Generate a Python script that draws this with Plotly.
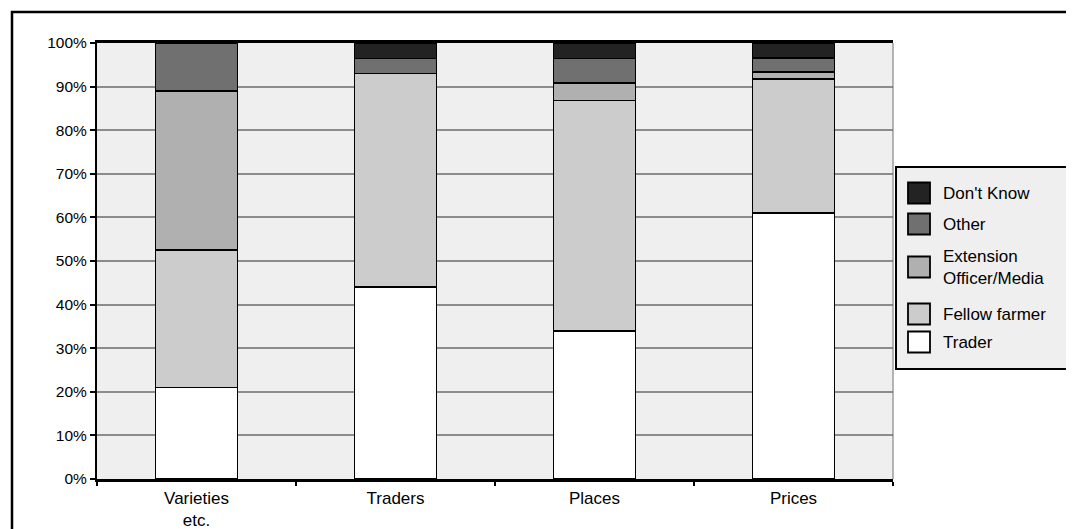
import plotly.graph_objects as go

categories = ["Varieties<br>etc.", "Traders", "Places", "Prices"]
series_names = ["Trader", "Fellow farmer", "Extension<br>Officer/Media", "Other", "Don't Know"]
trader = [21.0, 44.0, 34.0, 61.0]
fellow_farmer = [31.5, 49.0, 52.8, 30.7]
extension = [36.5, 0.0, 4.0, 1.7]
other = [11.0, 3.5, 5.7, 3.2]
dont_know = [0.0, 3.5, 3.5, 3.4]
series_values = [trader, fellow_farmer, extension, other, dont_know]
colors = ["#ffffff", "#cccccc", "#b0b0b0", "#707070", "#232323"]
y_ticks = [0, 10, 20, 30, 40, 50, 60, 70, 80, 90, 100]
y_tick_labels = ["0%", "10%", "20%", "30%", "40%", "50%", "60%", "70%", "80%", "90%", "100%"]

OFF = 8  # page body margin
W, H = 1074 - OFF, 529 - OFF
L, R, T, B = 97, 893, 43, 479  # plot area in page px


def px(x):
    return (x - L) / (R - L)


def py(y):
    return (B - y) / (B - T)


fig = go.Figure()
for name, vals, col in zip(series_names, series_values, colors):
    fig.add_trace(go.Bar(
        x=categories, y=vals, name=name, width=0.41,
        marker=dict(color=col, line=dict(color="#000000", width=1.5)),
        showlegend=False,
    ))

shapes = []
annotations = []
# outer frame
shapes.append(dict(type="rect", xref="paper", yref="paper",
                   x0=px(12), x1=px(1090), y0=py(12), y1=py(545),
                   line=dict(color="#000000", width=2.5), fillcolor="rgba(0,0,0,0)", layer="below"))
# right border of plot area (gray)
shapes.append(dict(type="line", xref="paper", yref="paper",
                   x0=1, x1=1, y0=0, y1=1, line=dict(color="#707070", width=1)))
# legend box
shapes.append(dict(type="rect", xref="paper", yref="paper",
                   x0=px(896), x1=px(1072), y0=py(167), y1=py(369),
                   line=dict(color="#000000", width=2), fillcolor="#efefef"))
legend_rows = [("Don't Know", 193), ("Other", 224), ("Extension<br>Officer/Media", 267),
               ("Fellow farmer", 314), ("Trader", 342)]
name_to_color = dict(zip(series_names, colors))
for name, yc in legend_rows:
    half = 10.5
    shapes.append(dict(type="rect", xref="paper", yref="paper",
                       x0=px(908), x1=px(930), y0=py(yc - half), y1=py(yc + half),
                       line=dict(color="#000000", width=1.8), fillcolor=name_to_color[name]))
    annotations.append(dict(xref="paper", yref="paper", x=px(941), y=py(yc),
                            xanchor="left", yanchor="middle", text=name, showarrow=False,
                            align="left",
                            font=dict(family="Liberation Sans, Arial", size=17, color="#000000")))

fig.update_layout(
    width=W, height=H,
    barmode="stack",
    margin=dict(l=L - OFF, r=1074 - R, t=T - OFF, b=529 - B, pad=0, autoexpand=False),
    paper_bgcolor="#ffffff",
    plot_bgcolor="#efefef",
    font=dict(family="Liberation Sans, Arial", size=15, color="#000000"),
    shapes=shapes,
    annotations=annotations,
    xaxis=dict(
        showline=True, linecolor="#000000", linewidth=2.5, mirror=True,
        ticks="outside", tickson="boundaries", ticklen=4, tickcolor="#000000", tickwidth=1.5,
        tickfont=dict(size=17), showgrid=False, fixedrange=True, automargin=False,
        ticklabelstandoff=2,
    ),
    yaxis=dict(
        range=[0, 100], tickmode="array", tickvals=y_ticks, ticktext=y_tick_labels,
        showline=True, linecolor="#000000", linewidth=2,
        ticks="outside", ticklen=5, tickcolor="#000000", tickwidth=1.5,
        showgrid=True, gridcolor="#8c8c8c", gridwidth=1.5,
        zeroline=False, tickfont=dict(size=15.5), fixedrange=True, automargin=False,
    ),
)

fig.write_html("out.html")
